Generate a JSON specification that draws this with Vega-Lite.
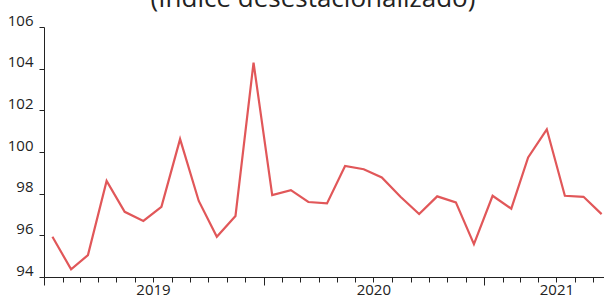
{
  "$schema": "https://vega.github.io/schema/vega-lite/v6.json",
  "autosize": "none",
  "width": 560,
  "height": 250,
  "padding": {"left": 44, "top": 27, "right": 0, "bottom": 21},
  "background": "white",
  "config": {
    "view": {"stroke": null},
    "font": "Open Sans"
  },
  "title": {
    "text": "(Índice desestacionalizado)",
    "fontSize": 26,
    "fontWeight": "normal",
    "color": "#222222",
    "font": "Open Sans",
    "anchor": "middle",
    "frame": "group",
    "baseline": "alphabetic",
    "offset": 0,
    "dx": -11,
    "dy": 20
  },
  "data": {
    "values": [
      {"date": "2019-01-15", "value": 95.93},
      {"date": "2019-02-15", "value": 94.37},
      {"date": "2019-03-15", "value": 95.05},
      {"date": "2019-04-15", "value": 98.61},
      {"date": "2019-05-15", "value": 97.13},
      {"date": "2019-06-15", "value": 96.69},
      {"date": "2019-07-15", "value": 97.37},
      {"date": "2019-08-15", "value": 100.62},
      {"date": "2019-09-15", "value": 97.65},
      {"date": "2019-10-15", "value": 95.93},
      {"date": "2019-11-15", "value": 96.93},
      {"date": "2019-12-15", "value": 104.29},
      {"date": "2020-01-15", "value": 97.93},
      {"date": "2020-02-15", "value": 98.17},
      {"date": "2020-03-15", "value": 97.6},
      {"date": "2020-04-15", "value": 97.53},
      {"date": "2020-05-15", "value": 99.33},
      {"date": "2020-06-15", "value": 99.17},
      {"date": "2020-07-15", "value": 98.78},
      {"date": "2020-08-15", "value": 97.85},
      {"date": "2020-09-15", "value": 97.02},
      {"date": "2020-10-15", "value": 97.87},
      {"date": "2020-11-15", "value": 97.58},
      {"date": "2020-12-15", "value": 95.58},
      {"date": "2021-01-15", "value": 97.9},
      {"date": "2021-02-15", "value": 97.28},
      {"date": "2021-03-15", "value": 99.74},
      {"date": "2021-04-15", "value": 101.09},
      {"date": "2021-05-15", "value": 97.9},
      {"date": "2021-06-15", "value": 97.85},
      {"date": "2021-07-15", "value": 97.02}
    ]
  },
  "mark": {"type": "line", "color": "#e15759", "strokeWidth": 2.2, "clip": true},
  "encoding": {
    "x": {
      "field": "date",
      "type": "temporal",
      "scale": {"domain": ["2019-01-01", "2021-07-19"]},
      "axis": {
        "title": null,
        "grid": false,
        "domainColor": "#222222",
        "tickColor": "#222222",
        "tickCount": {"interval": "month", "step": 1},
        "tickSize": {"condition": {"test": "month(datum.value) == 0", "value": 8}, "value": 5},
        "labelExpr": "(month(datum.value) == 6 && year(datum.value) < 2021) ? timeFormat(datum.value, '%Y') : (year(datum.value) == 2021 && month(datum.value) == 4 ? '2021' : '')",
        "labelOverlap": false,
        "labelBound": false,
        "labelFlush": false,
        "labelFontSize": 15,
        "labelColor": "#222222",
        "labelPadding": 12,
        "labelBaseline": "alphabetic",
        "labelAlign": "center"
      }
    },
    "y": {
      "field": "value",
      "type": "quantitative",
      "scale": {"domain": [94, 106], "nice": false, "zero": false},
      "axis": {
        "title": null,
        "grid": false,
        "values": [94, 96, 98, 100, 102, 104, 106],
        "domainColor": "#222222",
        "tickColor": "#222222",
        "tickSize": 5,
        "labelFontSize": 15,
        "labelColor": "#222222",
        "labelPadding": 6,
        "labelBaseline": "alphabetic",
        "labelOffset": -2
      }
    }
  }
}
